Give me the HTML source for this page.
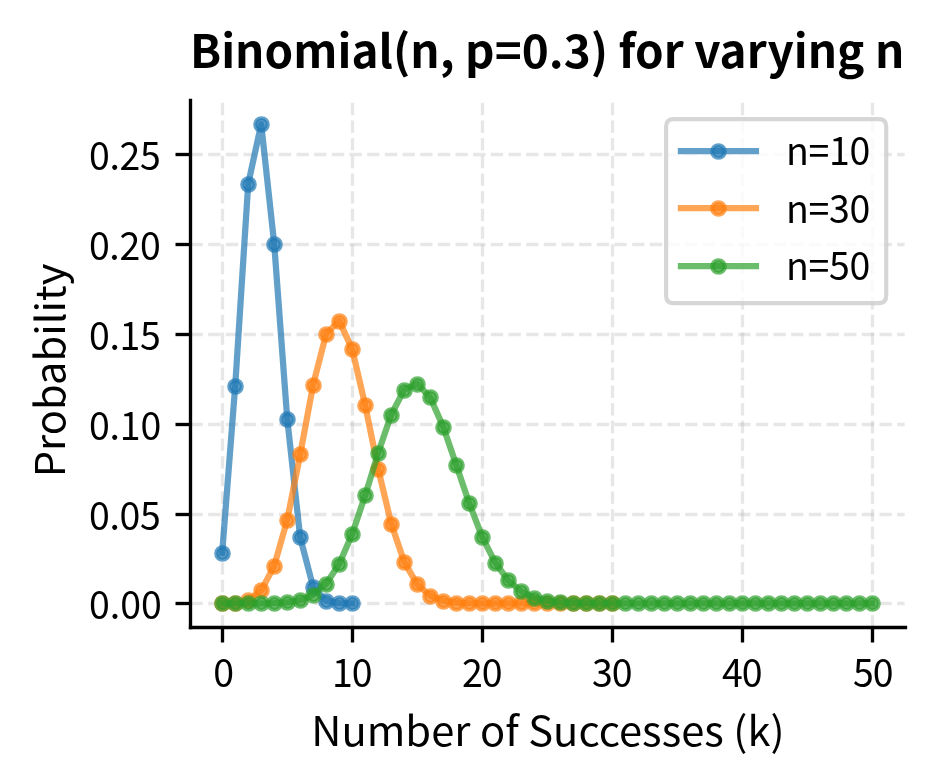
<!DOCTYPE html>
<html lang="en"><head><meta charset="utf-8"><title>Binomial(n, p=0.3) for varying n</title>
<style>html,body{margin:0;padding:0;background:#fff}svg{display:block}</style></head>
<body>
<svg width="934" height="784" viewBox="0 0 934 784" font-family='"Noto Sans CJK JP","Noto Sans CJK SC","Liberation Sans",sans-serif' fill="#000">
<rect width="934" height="784" fill="#fff"/>
<defs><clipPath id="ax"><rect x="189.7" y="100.16" width="715.00" height="527.20"/></clipPath></defs>
<g clip-path="url(#ax)" stroke="#b0b0b0" stroke-opacity="0.3" stroke-width="3.333" stroke-dasharray="12.333 5.333" fill="none">
<path d="M222.5 627.5V100.5"/>
<path d="M352.5 627.5V100.5"/>
<path d="M482.5 627.5V100.5"/>
<path d="M612.5 627.5V100.5"/>
<path d="M742.5 627.5V100.5"/>
<path d="M872.5 627.5V100.5"/>
<path d="M190.5 603.5H905.5"/>
<path d="M190.5 514.5H905.5"/>
<path d="M190.5 424.5H905.5"/>
<path d="M190.5 334.5H905.5"/>
<path d="M190.5 244.5H905.5"/>
<path d="M190.5 154.5H905.5"/>
</g>
<g clip-path="url(#ax)">
<path d="M222.20 552.66L235.20 385.95L248.20 184.03L261.20 124.12L274.20 243.94L287.20 418.53L300.20 537.37L313.20 587.23L326.20 600.80L339.20 603.15L352.20 603.39" fill="none" stroke="#1f77b4" stroke-opacity="0.7" stroke-width="6.25" stroke-linejoin="round" stroke-linecap="square"/>
<g fill="#1f77b4" fill-opacity="0.7" stroke="#1f77b4" stroke-opacity="0.7" stroke-width="4.167">
<circle cx="222.5" cy="553.5" r="6.25"/>
<circle cx="235.5" cy="386.5" r="6.25"/>
<circle cx="248.5" cy="184.5" r="6.25"/>
<circle cx="261.5" cy="124.5" r="6.25"/>
<circle cx="274.5" cy="244.5" r="6.25"/>
<circle cx="287.5" cy="419.5" r="6.25"/>
<circle cx="300.5" cy="537.5" r="6.25"/>
<circle cx="313.5" cy="587.5" r="6.25"/>
<circle cx="326.5" cy="601.5" r="6.25"/>
<circle cx="339.5" cy="603.5" r="6.25"/>
<circle cx="352.5" cy="603.5" r="6.25"/>
</g>
<path d="M222.20 603.36L235.20 602.88L248.20 600.16L261.20 590.46L274.20 565.97L287.20 519.98L300.20 454.44L313.20 384.52L326.20 333.71L339.20 320.87L352.20 349.13L365.20 405.26L378.20 468.95L391.20 523.61L404.20 561.88L417.20 584.42L430.20 595.77L443.20 600.70L456.20 602.56L469.20 603.17L482.20 603.34L495.20 603.39L508.20 603.39L521.20 603.40L534.20 603.40L547.20 603.40L560.20 603.40L573.20 603.40L586.20 603.40L599.20 603.40L612.20 603.40" fill="none" stroke="#ff7f0e" stroke-opacity="0.7" stroke-width="6.25" stroke-linejoin="round" stroke-linecap="square"/>
<g fill="#ff7f0e" fill-opacity="0.7" stroke="#ff7f0e" stroke-opacity="0.7" stroke-width="4.167">
<circle cx="222.5" cy="603.5" r="6.25"/>
<circle cx="235.5" cy="603.5" r="6.25"/>
<circle cx="248.5" cy="600.5" r="6.25"/>
<circle cx="261.5" cy="590.5" r="6.25"/>
<circle cx="274.5" cy="566.5" r="6.25"/>
<circle cx="287.5" cy="520.5" r="6.25"/>
<circle cx="300.5" cy="454.5" r="6.25"/>
<circle cx="313.5" cy="385.5" r="6.25"/>
<circle cx="326.5" cy="334.5" r="6.25"/>
<circle cx="339.5" cy="321.5" r="6.25"/>
<circle cx="352.5" cy="349.5" r="6.25"/>
<circle cx="365.5" cy="405.5" r="6.25"/>
<circle cx="378.5" cy="469.5" r="6.25"/>
<circle cx="391.5" cy="524.5" r="6.25"/>
<circle cx="404.5" cy="562.5" r="6.25"/>
<circle cx="417.5" cy="584.5" r="6.25"/>
<circle cx="430.5" cy="596.5" r="6.25"/>
<circle cx="443.5" cy="601.5" r="6.25"/>
<circle cx="456.5" cy="603.5" r="6.25"/>
<circle cx="469.5" cy="603.5" r="6.25"/>
<circle cx="482.5" cy="603.5" r="6.25"/>
<circle cx="495.5" cy="603.5" r="6.25"/>
<circle cx="508.5" cy="603.5" r="6.25"/>
<circle cx="521.5" cy="603.5" r="6.25"/>
<circle cx="534.5" cy="603.5" r="6.25"/>
<circle cx="547.5" cy="603.5" r="6.25"/>
<circle cx="560.5" cy="603.5" r="6.25"/>
<circle cx="573.5" cy="603.5" r="6.25"/>
<circle cx="586.5" cy="603.5" r="6.25"/>
<circle cx="599.5" cy="603.5" r="6.25"/>
<circle cx="612.5" cy="603.5" r="6.25"/>
</g>
<path d="M222.20 603.40L235.20 603.40L248.20 603.39L261.20 603.35L274.20 603.15L287.20 602.41L300.20 600.22L313.20 594.83L326.20 583.66L339.20 563.92L352.20 534.03L365.20 495.29L378.20 452.82L391.20 414.77L404.20 389.74L417.20 383.64L430.20 397.37L443.20 426.81L456.20 464.65L469.20 503.25L482.20 536.87L495.20 562.66L508.20 580.39L521.20 591.39L534.20 597.61L547.20 600.82L560.20 602.33L573.20 602.99L586.20 603.25L599.20 603.35L612.20 603.38L625.20 603.39L638.20 603.40L651.20 603.40L664.20 603.40L677.20 603.40L690.20 603.40L703.20 603.40L716.20 603.40L729.20 603.40L742.20 603.40L755.20 603.40L768.20 603.40L781.20 603.40L794.20 603.40L807.20 603.40L820.20 603.40L833.20 603.40L846.20 603.40L859.20 603.40L872.20 603.40" fill="none" stroke="#2ca02c" stroke-opacity="0.7" stroke-width="6.25" stroke-linejoin="round" stroke-linecap="square"/>
<g fill="#2ca02c" fill-opacity="0.7" stroke="#2ca02c" stroke-opacity="0.7" stroke-width="4.167">
<circle cx="222.5" cy="603.5" r="6.25"/>
<circle cx="235.5" cy="603.5" r="6.25"/>
<circle cx="248.5" cy="603.5" r="6.25"/>
<circle cx="261.5" cy="603.5" r="6.25"/>
<circle cx="274.5" cy="603.5" r="6.25"/>
<circle cx="287.5" cy="602.5" r="6.25"/>
<circle cx="300.5" cy="600.5" r="6.25"/>
<circle cx="313.5" cy="595.5" r="6.25"/>
<circle cx="326.5" cy="584.5" r="6.25"/>
<circle cx="339.5" cy="564.5" r="6.25"/>
<circle cx="352.5" cy="534.5" r="6.25"/>
<circle cx="365.5" cy="495.5" r="6.25"/>
<circle cx="378.5" cy="453.5" r="6.25"/>
<circle cx="391.5" cy="415.5" r="6.25"/>
<circle cx="404.5" cy="390.5" r="6.25"/>
<circle cx="417.5" cy="384.5" r="6.25"/>
<circle cx="430.5" cy="397.5" r="6.25"/>
<circle cx="443.5" cy="427.5" r="6.25"/>
<circle cx="456.5" cy="465.5" r="6.25"/>
<circle cx="469.5" cy="503.5" r="6.25"/>
<circle cx="482.5" cy="537.5" r="6.25"/>
<circle cx="495.5" cy="563.5" r="6.25"/>
<circle cx="508.5" cy="580.5" r="6.25"/>
<circle cx="521.5" cy="591.5" r="6.25"/>
<circle cx="534.5" cy="598.5" r="6.25"/>
<circle cx="547.5" cy="601.5" r="6.25"/>
<circle cx="560.5" cy="602.5" r="6.25"/>
<circle cx="573.5" cy="603.5" r="6.25"/>
<circle cx="586.5" cy="603.5" r="6.25"/>
<circle cx="599.5" cy="603.5" r="6.25"/>
<circle cx="612.5" cy="603.5" r="6.25"/>
<circle cx="625.5" cy="603.5" r="6.25"/>
<circle cx="638.5" cy="603.5" r="6.25"/>
<circle cx="651.5" cy="603.5" r="6.25"/>
<circle cx="664.5" cy="603.5" r="6.25"/>
<circle cx="677.5" cy="603.5" r="6.25"/>
<circle cx="690.5" cy="603.5" r="6.25"/>
<circle cx="703.5" cy="603.5" r="6.25"/>
<circle cx="716.5" cy="603.5" r="6.25"/>
<circle cx="729.5" cy="603.5" r="6.25"/>
<circle cx="742.5" cy="603.5" r="6.25"/>
<circle cx="755.5" cy="603.5" r="6.25"/>
<circle cx="768.5" cy="603.5" r="6.25"/>
<circle cx="781.5" cy="603.5" r="6.25"/>
<circle cx="794.5" cy="603.5" r="6.25"/>
<circle cx="807.5" cy="603.5" r="6.25"/>
<circle cx="820.5" cy="603.5" r="6.25"/>
<circle cx="833.5" cy="603.5" r="6.25"/>
<circle cx="846.5" cy="603.5" r="6.25"/>
<circle cx="859.5" cy="603.5" r="6.25"/>
<circle cx="872.5" cy="603.5" r="6.25"/>
</g>
</g>
<g stroke="#000" stroke-width="3.333" fill="none">
<path d="M190.5 627.5V100.5" stroke-linecap="square"/>
<path d="M190.5 627.5H905.5" stroke-linecap="square"/>
<path d="M222.5 627.5V642.5"/>
<path d="M352.5 627.5V642.5"/>
<path d="M482.5 627.5V642.5"/>
<path d="M612.5 627.5V642.5"/>
<path d="M742.5 627.5V642.5"/>
<path d="M872.5 627.5V642.5"/>
<path d="M190.5 603.5H175.5"/>
<path d="M190.5 514.5H175.5"/>
<path d="M190.5 424.5H175.5"/>
<path d="M190.5 334.5H175.5"/>
<path d="M190.5 244.5H175.5"/>
<path d="M190.5 154.5H175.5"/>
</g>
<text transform="translate(213.26 686.52) scale(1 1.033)" font-size="37.500">0</text>
<text transform="translate(331.90 686.52) scale(1 1.033)" font-size="37.500" textLength="40.6" lengthAdjust="spacing">10</text>
<text transform="translate(461.95 686.52) scale(1 1.033)" font-size="37.500" textLength="40.6" lengthAdjust="spacing">20</text>
<text transform="translate(591.93 686.52) scale(1 1.033)" font-size="37.500" textLength="40.6" lengthAdjust="spacing">30</text>
<text transform="translate(721.91 686.52) scale(1 1.033)" font-size="37.500" textLength="40.6" lengthAdjust="spacing">40</text>
<text transform="translate(852.89 686.52) scale(1 1.033)" font-size="37.500" textLength="40.6" lengthAdjust="spacing">50</text>
<text transform="translate(88.90 619.00) scale(1 1.033)" font-size="37.500">0.00</text>
<text transform="translate(88.90 530.00) scale(1 1.033)" font-size="37.500" textLength="72.0" lengthAdjust="spacing">0.05</text>
<text transform="translate(88.90 440.00) scale(1 1.033)" font-size="37.500" textLength="72.4" lengthAdjust="spacing">0.10</text>
<text transform="translate(88.90 350.00) scale(1 1.033)" font-size="37.500" textLength="72.0" lengthAdjust="spacing">0.15</text>
<text transform="translate(88.90 260.00) scale(1 1.033)" font-size="37.500" textLength="71.8" lengthAdjust="spacing">0.20</text>
<text transform="translate(88.90 170.00) scale(1 1.033)" font-size="37.500" textLength="72.0" lengthAdjust="spacing">0.25</text>
<text transform="translate(189.90 67.60)" font-size="45.833" font-weight="700" textLength="714.4" lengthAdjust="spacing">Binomial(n, p=0.3) for varying n</text>
<text transform="translate(311.21 745.64) scale(1 0.967)" font-size="41.667" textLength="473.4" lengthAdjust="spacing">Number of Successes (k)</text>
<text transform="translate(65.30 477.30) rotate(-90) scale(1 0.967)" font-size="41.667">Probability</text>
<path d="M673.6 119.1H878.7Q886.2 119.1 886.2 126.6V295.65Q886.2 303.15 878.7 303.15H673.6Q666.1 303.15 666.1 295.65V126.6Q666.1 119.1 673.6 119.1Z" fill="#fff" fill-opacity="0.8" stroke="#ccc" stroke-opacity="0.8" stroke-width="4.167" stroke-linejoin="miter"/>
<path d="M680.95 151.0H755.95" stroke="#1f77b4" stroke-opacity="0.7" stroke-width="6.25" stroke-linecap="square" fill="none"/>
<circle cx="718.5" cy="151.5" r="6.25" fill="#1f77b4" fill-opacity="0.7" stroke="#1f77b4" stroke-opacity="0.7" stroke-width="4.167"/>
<path d="M680.95 208.0H755.95" stroke="#ff7f0e" stroke-opacity="0.7" stroke-width="6.25" stroke-linecap="square" fill="none"/>
<circle cx="718.5" cy="208.5" r="6.25" fill="#ff7f0e" fill-opacity="0.7" stroke="#ff7f0e" stroke-opacity="0.7" stroke-width="4.167"/>
<path d="M680.95 266.0H755.95" stroke="#2ca02c" stroke-opacity="0.7" stroke-width="6.25" stroke-linecap="square" fill="none"/>
<circle cx="718.5" cy="266.5" r="6.25" fill="#2ca02c" fill-opacity="0.7" stroke="#2ca02c" stroke-opacity="0.7" stroke-width="4.167"/>
<text transform="translate(785.95 165.00) scale(1 1.033)" font-size="37.500" textLength="84.3" lengthAdjust="spacing">n=10</text>
<text transform="translate(785.95 223.00) scale(1 1.033)" font-size="37.500" textLength="84.3" lengthAdjust="spacing">n=30</text>
<text transform="translate(785.95 280.00) scale(1 1.033)" font-size="37.500" textLength="84.3" lengthAdjust="spacing">n=50</text>
</svg>
</body></html>
